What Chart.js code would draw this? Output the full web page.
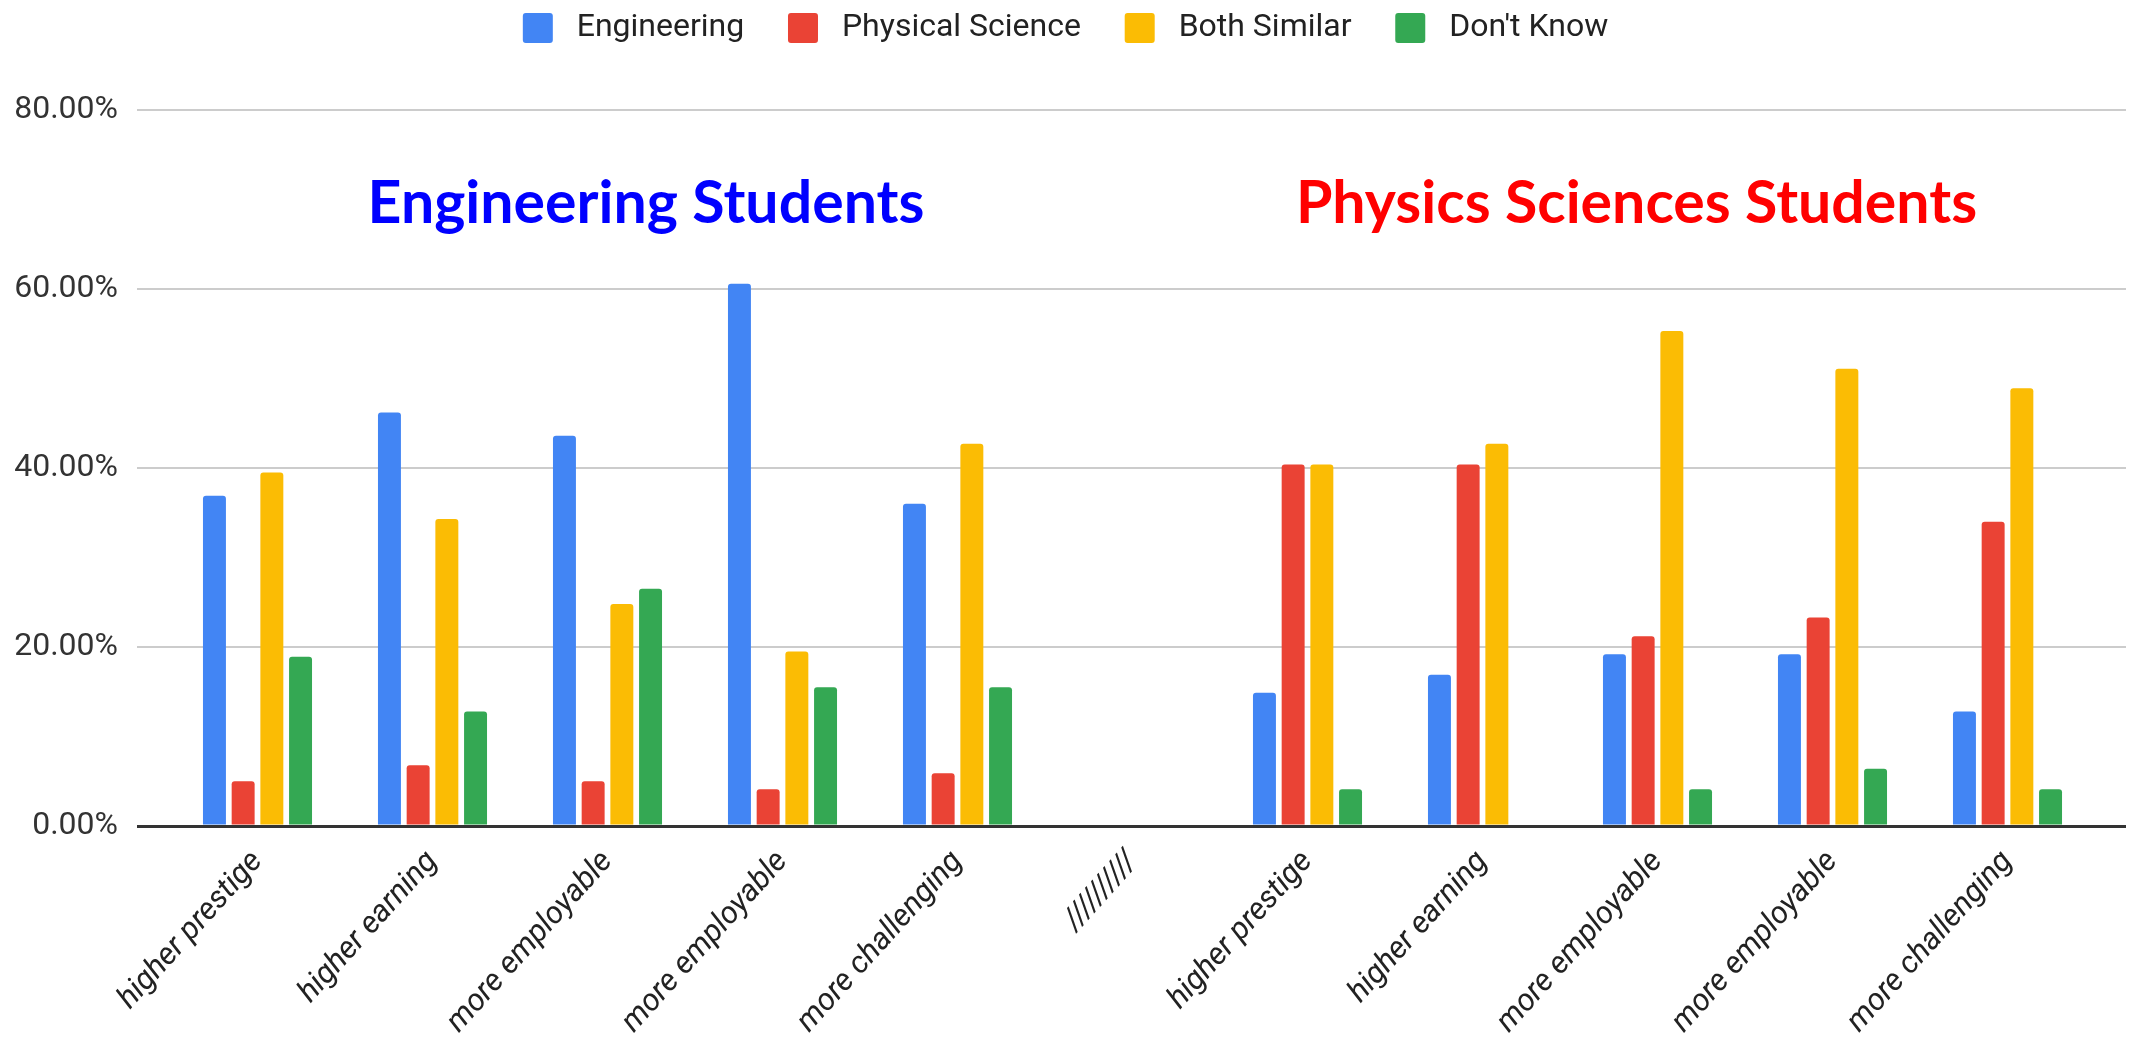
<!DOCTYPE html>
<html>
<head>
<meta charset="utf-8">
<title>Engineering vs Physical Science</title>
<script src="https://cdn.jsdelivr.net/npm/chart.js@4.4.1/dist/chart.umd.min.js"></script>
<style>
  html, body { margin: 0; padding: 0; background: #fff; }
  #chart { display: block; }
</style>
</head>
<body>
<canvas id="chart" width="2131" height="1039"></canvas>
<script>
// question per group of students, the empty slot in the middle splits the two groups
const categories = [
  "higher prestige", "higher earning", "more employable", "more employable", "more challenging",
  "//////////",
  "higher prestige", "higher earning", "more employable", "more employable", "more challenging"
];

const seriesNames = ["Engineering", "Physical Science", "Both Similar", "Don't Know"];
const seriesColors = ["#4285f4", "#ea4335", "#fbbc04", "#34a853"];

// answers in %
const engineering     = [36.9, 46.2, 43.6, 60.6, 36.0, null, 14.9, 16.9, 19.2, 19.2, 12.8];
const physicalScience = [5.0, 6.8, 5.0, 4.1, 5.9, null, 40.4, 40.4, 21.2, 23.3, 34.0];
const bothSimilar     = [39.5, 34.3, 24.8, 19.5, 42.7, null, 40.4, 42.7, 55.3, 51.1, 48.9];
const dontKnow        = [18.9, 12.8, 26.5, 15.5, 15.5, null, 4.1, 0, 4.1, 6.4, 4.1];

const yMax = 80;
const yStep = 20;

const groupTitles = ["Engineering Students", "Physics Sciences Students"];
const groupTitleColors = ["#0000ff", "#ff0000"];

Chart.defaults.font.family = "Roboto";

function gridColor(ctx) {
  return ctx.tick && ctx.tick.value === 0 ? "#333333" : "#cccccc";
}
function gridWidth(ctx) {
  return ctx.tick && ctx.tick.value === 0 ? 3 : 2;
}

// big group headings inside the plot
const groupHeadings = {
  id: "groupHeadings",
  afterDatasetsDraw(chart) {
    const ctx = chart.ctx;
    const x = chart.scales.x;
    const y = chart.scales.y;
    const spots = [2.22, 7.88];
    ctx.save();
    ctx.font = "bold 59px Lato";
    ctx.textAlign = "center";
    ctx.textBaseline = "alphabetic";
    groupTitles.forEach(function(t, i) {
      ctx.fillStyle = groupTitleColors[i];
      ctx.fillText(t, x.getPixelForValue(spots[i]), y.getPixelForValue(67.4));
    });
    ctx.restore();
  }
};

// more room under the legend
const legendGap = {
  id: "legendGap",
  beforeInit(chart) {
    const fit = chart.legend.fit;
    chart.legend.fit = function() {
      fit.bind(chart.legend)();
      this.height += 56;
    };
  }
};

const datasets = [engineering, physicalScience, bothSimilar, dontKnow].map(function(values, i) {
  return {
    label: seriesNames[i],
    data: values,
    backgroundColor: seriesColors[i],
    borderWidth: 0,
    borderRadius: 3,
    categoryPercentage: 0.656,
    barPercentage: 0.8
  };
});

new Chart(document.getElementById("chart"), {
  type: "bar",
  data: { labels: categories, datasets: datasets },
  plugins: [groupHeadings, legendGap],
  options: {
    responsive: false,
    animation: false,
    layout: { padding: 0 },
    plugins: {
      tooltip: { enabled: false },
      legend: {
        display: true,
        position: "top",
        labels: {
          boxWidth: 30,
          boxHeight: 30,
          padding: 12,
          useBorderRadius: true,
          borderRadius: 3,
          color: "#222222",
          font: { size: 32 },
          generateLabels(chart) {
            const items = Chart.defaults.plugins.legend.labels.generateLabels(chart);
            return items.map(function(item, i) {
              item.text = " " + item.text + (i < items.length - 1 ? "    " : "");
              return item;
            });
          }
        }
      }
    },
    scales: {
      x: {
        grid: { display: false },
        border: { display: false },
        ticks: {
          autoSkip: false,
          minRotation: 48,
          maxRotation: 48,
          padding: 10,
          color: "#222222",
          font: { size: 31, style: "italic" }
        },
        afterFit(scale) { scale.height = 213; }
      },
      y: {
        min: 0,
        max: yMax,
        border: { display: false },
        grid: { color: gridColor, lineWidth: gridWidth, tickLength: 33 },
        ticks: {
          stepSize: yStep,
          padding: 19,
          color: "#333333",
          font: { size: 32 },
          callback: function(v) { return v.toFixed(2) + "%"; }
        },
        afterFit(scale) { scale.width = 170; }
      },
      // right side stub so the grid lines run past the last group
      yRight: {
        position: "right",
        min: 0,
        max: yMax,
        border: { display: false },
        grid: { color: gridColor, lineWidth: gridWidth, tickLength: 31, drawOnChartArea: false },
        ticks: { stepSize: yStep, display: false },
        afterFit(scale) { scale.width = 36; }
      }
    }
  }
});
</script>
</body>
</html>
